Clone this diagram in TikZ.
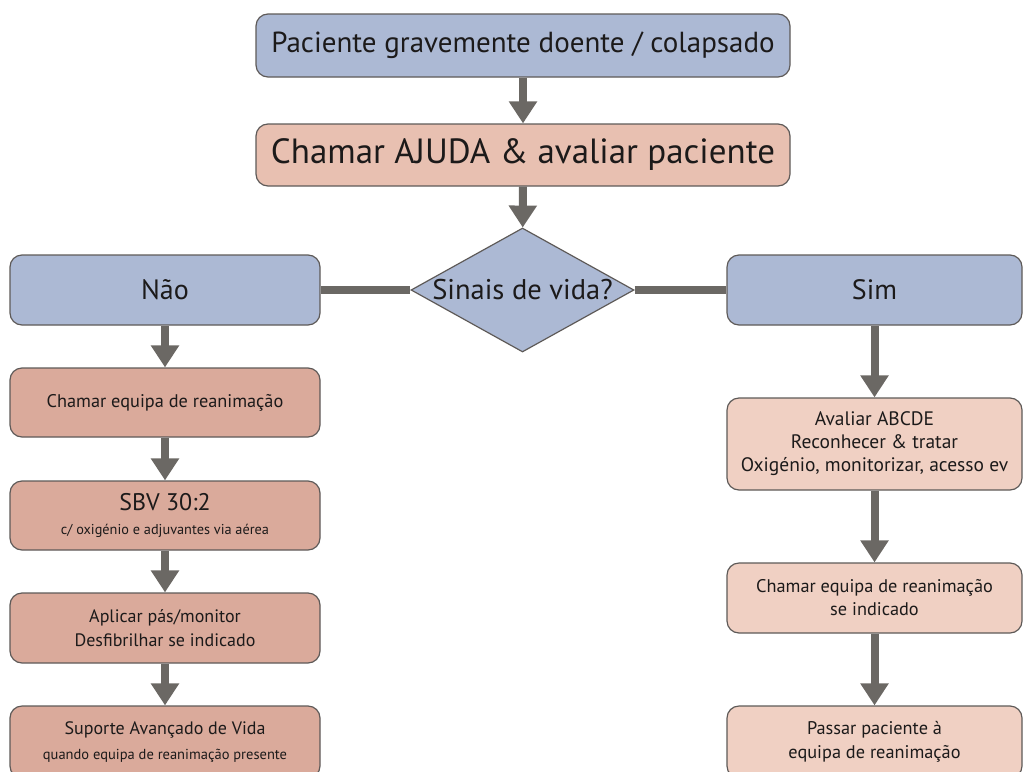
\documentclass[tikz,border=0pt]{standalone}
\usepackage{fontspec}
\setmainfont{PT Sans}
\usetikzlibrary{shapes.geometric,arrows.meta}
\definecolor{bluebox}{HTML}{ACB9D4}
\definecolor{salmonL}{HTML}{DAAA9B}
\definecolor{salmonT}{HTML}{E8C0B1}
\definecolor{salmonR}{HTML}{F0D0C3}
\definecolor{bordercol}{HTML}{5E5A58}
\definecolor{arrowcol}{HTML}{6B6864}
\definecolor{textcol}{HTML}{1C1A1A}
\tikzset{
  box/.style={draw=bordercol, line width=1.2pt, rounded corners=12pt, align=center,
    inner sep=0pt, text=textcol},
  lbox/.style={box, fill=salmonL, minimum width=310pt},
  rbox/.style={box, fill=salmonR, minimum width=295pt},
  flow/.style={draw=arrowcol, line width=8pt, -{Triangle[width=27pt,length=22pt]}},
  link/.style={draw=arrowcol, line width=8pt},
}
\newcommand{\fs}[2]{\fontsize{#1}{#2}\selectfont}
\begin{document}
\begin{tikzpicture}[x=1pt,y=-1pt]
\useasboundingbox (0,0) rectangle (1024,771);
\clip (0,0) rectangle (1024,771);

\node[box, fill=bluebox, minimum width=534pt, minimum height=63pt, font=\fs{29}{32}] (top) at (523,45.5) {Paciente gravemente doente / colapsado};
\node[box, fill=salmonT, minimum width=534pt, minimum height=62pt, font=\fs{35}{38}] (help) at (523,155) {Chamar AJUDA \& avaliar paciente};
\node[draw=bordercol, line width=1.2pt, fill=bluebox, shape=diamond, minimum width=223pt, minimum height=124pt, inner sep=0pt, text=textcol, font=\fs{28.5}{30}] (dia) at (522.5,290) {\makebox[0pt]{Sinais de vida?}};

\node[box, fill=bluebox, minimum width=310pt, minimum height=70pt, font=\fs{28}{30}] (nao) at (165,290) {Não};
\node[box, fill=bluebox, minimum width=295pt, minimum height=70pt, font=\fs{28}{30}] (sim) at (874.5,290) {Sim};

% left column
\node[lbox, minimum height=69pt, font=\fs{18.3}{22}] (l1) at (165,402.5) {Chamar equipa de reanimação};
\node[lbox, minimum height=69pt, font=\fs{14.3}{24}] (l2) at (165,515.5) {{\fs{24}{26}SBV 30:2}\\c/ oxigénio e adjuvantes via aérea};
\node[lbox, minimum height=70pt, font=\fs{18}{24}] (l3) at (165,628) {Aplicar pás/monitor\\Desfibrilhar se indicado};
\node[lbox, minimum height=72pt, font=\fs{14.5}{25}] (l4) at (165,742) {{\fs{18}{22}Suporte Avançado de Vida}\\quando equipa de reanimação presente};

% right column
\node[rbox, minimum height=92pt, font=\fs{19.5}{23}] (r1) at (874.5,444) {Avaliar ABCDE\\Reconhecer \& tratar\\Oxigénio, monitorizar, acesso ev};
\node[rbox, minimum height=70pt, font=\fs{18.3}{23}] (r2) at (874.5,598) {Chamar equipa de reanimação\\se indicado};
\node[rbox, minimum height=72pt, font=\fs{18.3}{24}] (r3) at (874.5,742) {Passar paciente à\\equipa de reanimação};

% connectors
\draw[flow] (top) -- (help);
\draw[flow] (help) -- (dia);
\draw[link] (nao.east) -- (dia.west);
\draw[link] (dia.east) -- (sim.west);
\draw[flow] (nao) -- (l1);
\draw[flow] (l1) -- (l2);
\draw[flow] (l2) -- (l3);
\draw[flow] (l3) -- (l4);
\draw[flow] (sim.south -| r1) -- (r1);
\draw[flow] (r1) -- (r2);
\draw[flow] (r2) -- (r3);
\end{tikzpicture}
\end{document}
